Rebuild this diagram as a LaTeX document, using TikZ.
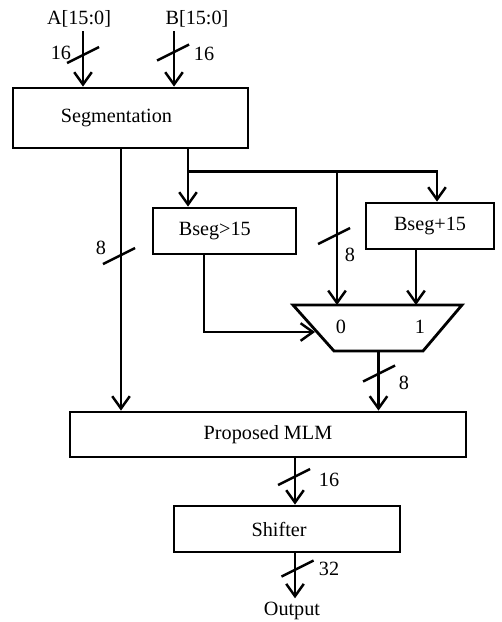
\documentclass[tikz,border=0pt]{standalone}
\usepackage{fontspec}
\setmainfont{Liberation Serif}
\usetikzlibrary{arrows.meta}
\usetikzlibrary{calc}

\begin{document}
\begin{tikzpicture}[x=0.02cm,y=-0.02cm,
    every node/.style={font=\fontsize{11.5}{13.8}\selectfont,inner sep=2pt},
    block/.style={draw,line width=1.6pt},
    wire/.style={line width=1.4pt},
    arr/.style={wire,-{Straight Barb[length=7pt,width=10pt]}}]
  \useasboundingbox (0,0) rectangle (501,622);
  % blocks
  \node[block,minimum width=4.7cm,minimum height=1.2cm] (seg) at (130.5,118) {Segmentation\kern16pt};
  \node[block,minimum width=2.86cm,minimum height=0.92cm] (gt) at (224.5,231) {Bseg>15\kern11pt};
  \node[block,minimum width=2.56cm,minimum height=0.92cm] (add) at (430,226) {Bseg+15};
  \node[block,minimum width=7.92cm,minimum height=0.9cm] (mlm) at (268,434.5) {Proposed MLM};
  \node[block,minimum width=4.52cm,minimum height=0.92cm] (shift) at (287,529) {Shifter\kern9pt};
  % multiplexer
  \draw[block] (293,305) -- (462,305) -- (423,351) -- (334,351) -- cycle;
  \node (m0) at (341,327) {0};
  \node (m1) at (420,327) {1};
  \coordinate (mux0) at (337,305);
  \coordinate (mux1) at (416,305);
  \coordinate (muxin) at (315,332);
  \coordinate (muxout) at (378.5,351);
  % inputs and output
  \node (a) at (79,19) {A[15:0]};
  \node (b) at (197,19) {B[15:0]};
  \node (out) at (292,611) {Output};
  % connectors
  \coordinate (ain) at ($(seg.north)+(-47.5,0)$);
  \coordinate (bin) at ($(seg.north)+(43.5,0)$);
  \coordinate (segl) at ($(seg.south)+(-9.5,0)$);
  \coordinate (segr) at ($(seg.south)+(57.5,0)$);
  \coordinate (split) at ($(segr)+(0,22)$);
  \coordinate (addin) at ($(add.north)+(7,0)$);
  \coordinate (gtout) at ($(gt.south)+(-20.5,0)$);
  \coordinate (mlmout) at ($(mlm.south)+(27,0)$);
  \draw[arr] (a.south -| ain) -- (ain);
  \draw[arr] (b.south -| bin) -- (bin);
  \draw[arr] (segl) -- (segl |- mlm.north);
  \draw[arr] (segr) -- (segr |- gt.north);
  \draw[arr] (split) -| (addin);
  \draw[arr] (split -| mux0) -- (mux0);
  \draw[arr] (add.south -| mux1) -- (mux1);
  \draw[arr] (gtout) |- (muxin);
  \draw[arr] (muxout) -- (muxout |- mlm.north);
  \draw[arr] (mlmout) -- (mlmout |- shift.north);
  \draw[arr] (shift.south -| mlmout) -- (out.north -| mlmout);
  % bus width marks
  \foreach \sx/\sy in {83/55,173/52.5,119/256,334/236,379/373.5,294/477,297.5/568.5}
    \draw[wire] (\sx,\sy) ++(-16,8) -- ++(32,-16);
  \node (wa) at (61,53) {16};
  \node (wb) at (204,54) {16};
  \node (wl) at (101,248) {8};
  \node (wm) at (350,255) {8};
  \node (wx) at (404,383) {8};
  \node (wp) at (329,480) {16};
  \node (ws) at (329,569) {32};
\end{tikzpicture}
\end{document}
